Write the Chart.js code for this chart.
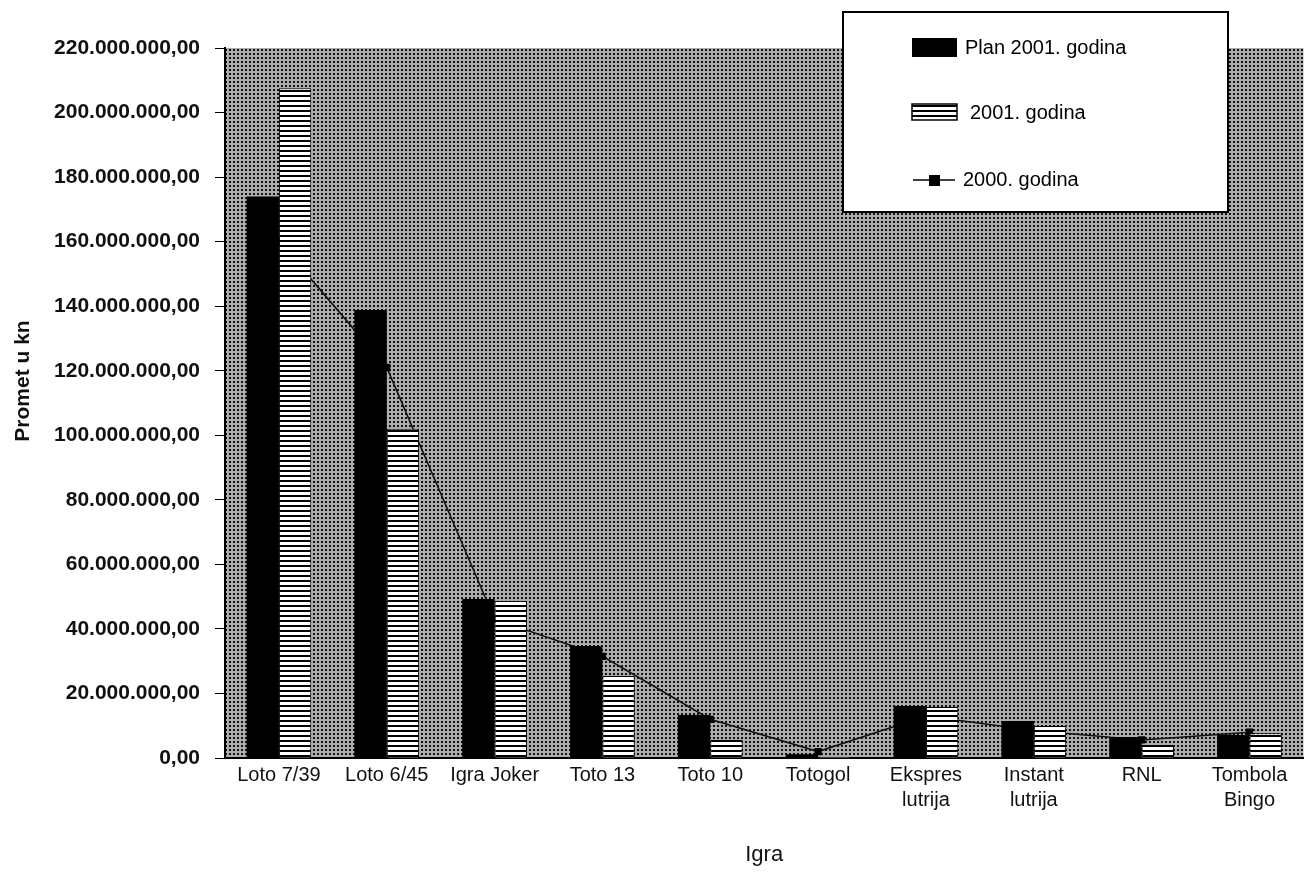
<!DOCTYPE html>
<html>
<head>
<meta charset="utf-8">
<script src="https://cdn.jsdelivr.net/npm/chart.js@4.4.1/dist/chart.umd.min.js"></script>
<style>
  body { margin: 0; background: #fff; }
  #wrap { position: relative; width: 1309px; height: 877px; }
</style>
</head>
<body>
<div id="wrap"><canvas id="prometChart"></canvas></div>
<script>
//categories (games) on the x axis
var categories = ['Loto 7/39', 'Loto 6/45', 'Igra Joker', 'Toto 13', 'Toto 10', 'Totogol',
    ['Ekspres', 'lutrija'], ['Instant', 'lutrija'], 'RNL', ['Tombola', 'Bingo']];

//turnover in kn
var plan2001 = [174000000, 138800000, 49300000, 34700000, 13300000, 1200000, 16100000, 11500000, 6500000, 7100000];
var real2001 = [207500000, 102000000, 48700000, 25400000, 5600000, 400000, 15800000, 9900000, 4000000, 7700000];
var real2000 = [160000000, 121000000, 43000000, 31500000, 12000000, 2000000, 13000000, 8500000, 5600000, 8000000];

var seriesLabels = ['Plan 2001. godina', '2001. godina', '2000. godina'];

var yMax = 220000000;
var yStep = 20000000;

//formats a number like 220.000.000,00
function formatKn(value) {
    var s = Math.round(value).toString().replace(/\B(?=(\d{3})+(?!\d))/g, '.');
    return s + ',00';
}

//makes a small repeating pattern
function makePattern(w, h, draw) {
    var c = document.createElement('canvas');
    c.width = w;
    c.height = h;
    draw(c.getContext('2d'));
    return c.getContext('2d').createPattern(c, 'repeat');
}

//grey dotted background of the plot area
var dotPattern = makePattern(4, 4, function(p) {
    p.fillStyle = '#adadad';
    p.fillRect(0, 0, 4, 4);
    p.fillStyle = '#111111';
    p.fillRect(1, 1, 2, 2);
});

//white bar with black horizontal lines
var stripePattern = makePattern(5, 5, function(p) {
    p.fillStyle = '#ffffff';
    p.fillRect(0, 0, 5, 5);
    p.fillStyle = '#000000';
    p.fillRect(0, 0, 5, 2);
});

//fills the chart area before anything else is drawn
var areaBackground = {
    id: 'areaBackground',
    beforeDraw: function(chart) {
        var a = chart.chartArea;
        var ctx = chart.ctx;
        ctx.save();
        ctx.fillStyle = dotPattern;
        ctx.fillRect(a.left, a.top, a.right - a.left, a.bottom - a.top);
        ctx.restore();
    }
};

//y title sits a bit above the middle in the original
var yTitle = {
    id: 'yTitle',
    afterDraw: function(chart) {
        var ctx = chart.ctx;
        ctx.save();
        ctx.translate(23, 381);
        ctx.rotate(-Math.PI / 2);
        ctx.font = 'bold 21px "Liberation Sans", Arial, sans-serif';
        ctx.fillStyle = '#111';
        ctx.textAlign = 'center';
        ctx.textBaseline = 'middle';
        ctx.fillText('Promet u kn', 0, 0);
        ctx.restore();
    }
};

//boxed legend that overlaps the plot, like the original
var boxLegend = {
    id: 'boxLegend',
    afterDraw: function(chart) {
        var ctx = chart.ctx;
        ctx.save();
        ctx.fillStyle = '#fff';
        ctx.fillRect(843, 12, 385, 200);
        ctx.strokeStyle = '#000';
        ctx.lineWidth = 2;
        ctx.strokeRect(843, 12, 385, 200);

        ctx.font = '20px "Liberation Sans", Arial, sans-serif';
        ctx.textBaseline = 'middle';
        ctx.textAlign = 'left';

        //plan 2001
        ctx.fillStyle = '#000';
        ctx.fillRect(912, 38, 45, 19);
        ctx.fillText(seriesLabels[0], 965, 48);

        //2001
        ctx.fillStyle = stripePattern;
        ctx.fillRect(912, 104, 45, 16);
        ctx.lineWidth = 1.5;
        ctx.strokeRect(912, 104, 45, 16);
        ctx.fillStyle = '#000';
        ctx.fillText(seriesLabels[1], 970, 113);

        //2000
        ctx.beginPath();
        ctx.moveTo(913, 180);
        ctx.lineTo(955, 180);
        ctx.stroke();
        ctx.fillRect(929, 175, 11, 11);
        ctx.fillText(seriesLabels[2], 963, 180);
        ctx.restore();
    }
};

var ctx = document.getElementById('prometChart').getContext('2d');

var chart = new Chart(ctx, {
    type: 'bar',
    data: {
        labels: categories,
        datasets: [{
            label: seriesLabels[0],
            data: plan2001,
            backgroundColor: '#000',
            borderWidth: 0,
            categoryPercentage: 0.6,
            barPercentage: 1.0,
            order: 1
        }, {
            label: seriesLabels[1],
            data: real2001,
            backgroundColor: stripePattern,
            borderColor: '#000',
            borderWidth: 1,
            categoryPercentage: 0.6,
            barPercentage: 1.0,
            order: 2
        }, {
            type: 'line',
            label: seriesLabels[2],
            data: real2000,
            borderColor: '#111',
            borderWidth: 1.6,
            tension: 0,
            pointStyle: 'rect',
            pointRadius: 4,
            pointBackgroundColor: '#000',
            pointBorderColor: '#000',
            order: 3
        }]
    },
    options: {
        responsive: true,
        maintainAspectRatio: false,
        animation: false,
        layout: {
            padding: { top: 48, right: 0, bottom: 0, left: 0 }
        },
        plugins: {
            legend: { display: false },
            tooltip: { enabled: false }
        },
        scales: {
            x: {
                grid: { display: false, drawTicks: false },
                border: { display: true, color: '#000', width: 2 },
                ticks: {
                    color: '#111',
                    padding: 5,
                    maxRotation: 0,
                    autoSkip: false,
                    font: { family: '"Liberation Sans", Arial, sans-serif', size: 20, lineHeight: 1.25 }
                },
                title: {
                    display: true,
                    text: 'Igra',
                    color: '#111',
                    padding: { top: 4, bottom: 9 },
                    font: { family: '"Liberation Sans", Arial, sans-serif', size: 22 }
                },
                afterFit: function(scale) {
                    scale.height = 119;
                }
            },
            y: {
                min: 0,
                max: yMax,
                grid: { drawOnChartArea: false, drawTicks: true, tickLength: 10, color: '#000' },
                border: { display: true, color: '#000', width: 2 },
                ticks: {
                    stepSize: yStep,
                    padding: 15,
                    color: '#111',
                    font: { family: '"Liberation Sans", Arial, sans-serif', size: 21, weight: 'bold' },
                    callback: function(value) {
                        return formatKn(value);
                    }
                },
                afterFit: function(scale) {
                    scale.width = 225;
                }
            }
        }
    },
    plugins: [areaBackground, yTitle, boxLegend]
});
</script>
</body>
</html>
